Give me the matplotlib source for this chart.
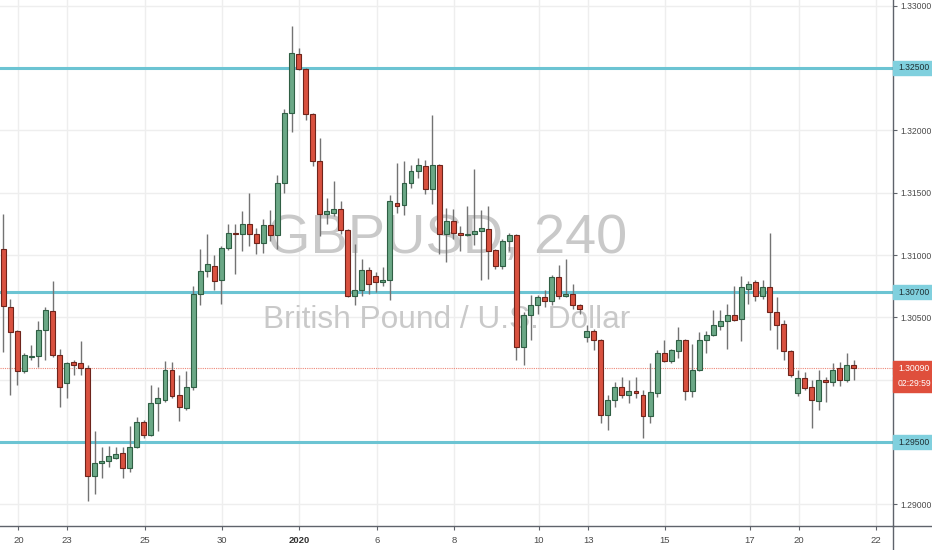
import matplotlib
matplotlib.use("Agg")
import matplotlib.pyplot as plt
from matplotlib import font_manager
from matplotlib.lines import Line2D
from matplotlib.patches import Rectangle

# GBPUSD 4h candles (oldest first)
opens = [1.3105, 1.3058, 1.3039, 1.3007, 1.3018, 1.3019, 1.3040, 1.3055, 1.3020, 1.2997,
         1.3014, 1.3013, 1.3009, 1.2923, 1.2933, 1.2935, 1.2937, 1.2941, 1.2929, 1.2946,
         1.2966, 1.2956, 1.2981, 1.2984, 1.3008, 1.2988, 1.2977, 1.2994, 1.3069, 1.3087,
         1.3091, 1.3080, 1.3106, 1.3118, 1.3117, 1.3125, 1.3117, 1.3110, 1.3124, 1.3116,
         1.3158, 1.3214, 1.3261, 1.3249, 1.3213, 1.3175, 1.3133, 1.3134, 1.3137, 1.3120,
         1.3067, 1.3072, 1.3088, 1.3083, 1.3078, 1.3080, 1.3142, 1.3140, 1.3158, 1.3167,
         1.3171, 1.3153, 1.3172, 1.3117, 1.3127, 1.3118, 1.3116, 1.3117, 1.3119, 1.3121,
         1.3104, 1.3091, 1.3111, 1.3116, 1.3026, 1.3052, 1.3060, 1.3066, 1.3063, 1.3082,
         1.3067, 1.3069, 1.3060, 1.3034, 1.3039, 1.3032, 1.2972, 1.2984, 1.2994, 1.2988,
         1.2991, 1.2988, 1.2971, 1.2989, 1.3021, 1.3015, 1.3023, 1.3032, 1.2991, 1.3008,
         1.3032, 1.3036, 1.3043, 1.3047, 1.3052, 1.3049, 1.3073, 1.3078, 1.3067, 1.3074,
         1.3054, 1.3045, 1.3023, 1.2989, 1.3001, 1.2994, 1.2983, 1.3000, 1.2998, 1.3009,
         1.3000, 1.3012]
highs = [1.3133, 1.3065, 1.3040, 1.3021, 1.3028, 1.3047, 1.3058, 1.3079, 1.3025, 1.3014,
         1.3016, 1.3031, 1.3012, 1.2959, 1.2946, 1.2947, 1.2946, 1.2946, 1.2963, 1.2970,
         1.2968, 1.2996, 1.2994, 1.3015, 1.3014, 1.3004, 1.3007, 1.3075, 1.3105, 1.3117,
         1.3100, 1.3107, 1.3125, 1.3125, 1.3135, 1.3150, 1.3122, 1.3129, 1.3136, 1.3164,
         1.3217, 1.3284, 1.3266, 1.3250, 1.3214, 1.3194, 1.3146, 1.3159, 1.3143, 1.3121,
         1.3109, 1.3097, 1.3090, 1.3086, 1.3090, 1.3148, 1.3174, 1.3175, 1.3172, 1.3178,
         1.3176, 1.3212, 1.3173, 1.3138, 1.3137, 1.3123, 1.3139, 1.3169, 1.3136, 1.3139,
         1.3105, 1.3113, 1.3118, 1.3117, 1.3054, 1.3068, 1.3068, 1.3072, 1.3084, 1.3092,
         1.3097, 1.3077, 1.3061, 1.3044, 1.3041, 1.3033, 1.2988, 1.2998, 1.3002, 1.3000,
         1.3002, 1.2992, 1.3013, 1.3024, 1.3032, 1.3025, 1.3042, 1.3033, 1.3029, 1.3038,
         1.3039, 1.3056, 1.3056, 1.3061, 1.3075, 1.3083, 1.3079, 1.3080, 1.3080, 1.3118,
         1.3066, 1.3048, 1.3024, 1.3008, 1.3006, 1.3000, 1.3008, 1.3002, 1.3013, 1.3014,
         1.3021, 1.3016]
lows = [1.3022, 1.2988, 1.2996, 1.3005, 1.3016, 1.3010, 1.3016, 1.3018, 1.2978, 1.2985,
        1.3004, 1.3004, 1.2903, 1.2908, 1.2921, 1.2930, 1.2936, 1.2921, 1.2926, 1.2945,
        1.2953, 1.2955, 1.2959, 1.2982, 1.2985, 1.2967, 1.2976, 1.2992, 1.3060, 1.3082,
        1.3072, 1.3061, 1.3104, 1.3085, 1.3103, 1.3107, 1.3101, 1.3102, 1.3111, 1.3105,
        1.3150, 1.3199, 1.3248, 1.3208, 1.3171, 1.3115, 1.3125, 1.3131, 1.3117, 1.3066,
        1.3060, 1.3067, 1.3069, 1.3070, 1.3075, 1.3064, 1.3134, 1.3132, 1.3154, 1.3162,
        1.3149, 1.3141, 1.3101, 1.3094, 1.3113, 1.3103, 1.3115, 1.3108, 1.3080, 1.3081,
        1.3089, 1.3089, 1.3103, 1.3016, 1.3012, 1.3032, 1.3053, 1.3058, 1.3060, 1.3065,
        1.3066, 1.3057, 1.3053, 1.3030, 1.3024, 1.2965, 1.2960, 1.2978, 1.2985, 1.2981,
        1.2985, 1.2953, 1.2965, 1.2986, 1.3014, 1.3013, 1.3017, 1.2984, 1.2986, 1.3007,
        1.3021, 1.3035, 1.3040, 1.3025, 1.3047, 1.3031, 1.3061, 1.3063, 1.3065, 1.3040,
        1.3025, 1.3016, 1.3002, 1.2987, 1.2992, 1.2961, 1.2976, 1.2982, 1.2995, 1.2995,
        1.2998, 1.3000]
closes = [1.3059, 1.3038, 1.3007, 1.3020, 1.3019, 1.3040, 1.3056, 1.3020, 1.2994, 1.3013,
          1.3012, 1.3009, 1.2923, 1.2933, 1.2935, 1.2939, 1.2940, 1.2929, 1.2946, 1.2966,
          1.2956, 1.2981, 1.2985, 1.3008, 1.2987, 1.2978, 1.2994, 1.3069, 1.3087, 1.3093,
          1.3079, 1.3106, 1.3118, 1.3117, 1.3125, 1.3117, 1.3110, 1.3124, 1.3116, 1.3158,
          1.3214, 1.3262, 1.3249, 1.3213, 1.3175, 1.3133, 1.3135, 1.3137, 1.3120, 1.3067,
          1.3072, 1.3088, 1.3077, 1.3078, 1.3080, 1.3143, 1.3139, 1.3158, 1.3167, 1.3172,
          1.3153, 1.3172, 1.3117, 1.3127, 1.3118, 1.3116, 1.3117, 1.3119, 1.3122, 1.3103,
          1.3091, 1.3111, 1.3116, 1.3026, 1.3052, 1.3060, 1.3066, 1.3063, 1.3082, 1.3067,
          1.3069, 1.3060, 1.3057, 1.3039, 1.3032, 1.2972, 1.2984, 1.2994, 1.2988, 1.2991,
          1.2989, 1.2971, 1.2990, 1.3021, 1.3015, 1.3024, 1.3032, 1.2991, 1.3008, 1.3032,
          1.3036, 1.3044, 1.3047, 1.3052, 1.3048, 1.3074, 1.3077, 1.3067, 1.3074, 1.3054,
          1.3044, 1.3023, 1.3004, 1.3001, 1.2993, 1.2984, 1.3000, 1.2998, 1.3008, 1.3000,
          1.3012, 1.3009]

levels = [1.3250, 1.3070, 1.2950]
last_price = 1.3009
countdown = "02:29:59"
grid_prices = [1.290, 1.295, 1.300, 1.305, 1.310, 1.315, 1.320, 1.325, 1.330]
price_ticks = [1.290, 1.305, 1.310, 1.315, 1.320, 1.330]
day_pos = [2.15, 9.05, 20.15, 31.1, 42.1, 53.2, 64.1, 76.2, 83.2, 94.1, 106.2, 113.2, 124.1]
day_labels = ["20", "23", "25", "30", "2020", "6", "8", "10", "13", "15", "17", "20", "22"]
symbol = "GBPUSD, 240"
description = "British Pound / U.S. Dollar"

UP, UP_EDGE = "#6ba886", "#2f5f44"
DOWN, DOWN_EDGE = "#d9513f", "#6e241b"
WICK = "#737373"
LEVEL, LEVEL_BOX = "#6cc4d3", "#80d0de"
AXIS = "#5f636b"
TXT = "#4a4a4a"

names = {f.name for f in font_manager.fontManager.ttflist}
narrow = "Liberation Sans Narrow" in names
font = "Liberation Sans Narrow" if narrow else "Liberation Sans"
tick_size = 7 if narrow else 6.2
plt.rcParams["font.family"] = [font, "DejaVu Sans"]

W, H = 932, 550
fig = plt.figure(figsize=(W / 100, H / 100), dpi=100)
ax = fig.add_axes([0, 24 / H, 893 / W, 526 / H])
ax.set_xlim(-0.47, 126.56)
ax.set_ylim(1.288263, 1.330454)
px = (1.330454 - 1.288263) / 526  # price units per pixel

# grid
for p in grid_prices:
    ax.axhline(p, color="#eeeeee", lw=1, zorder=0)
for d in day_pos:
    ax.axvline(d, color="#eeeeee", lw=1, zorder=0)

# watermark
wm1 = ax.text(0.5006, 0.5198, symbol, transform=ax.transAxes, ha="center", va="baseline",
              color="#c9c9c9", fontsize=50, zorder=0.5)
wm2 = ax.text(0.5006, 0.3764, description, transform=ax.transAxes, ha="center", va="baseline",
              color="#c9c9c9", fontsize=25, zorder=0.5)
fig.canvas.draw()
r = fig.canvas.get_renderer()
for t, target in [(wm1, 361), (wm2, 368)]:
    t.set_fontsize(t.get_fontsize() * target / t.get_window_extent(r).width)

# support / resistance levels
for lv in levels:
    ax.axhline(lv, color=LEVEL, lw=2.2, zorder=1.5)
ax.axhline(last_price, color="#ee8878", lw=0.8, ls=(0, (1, 1)), zorder=1.6)

# candles
x = list(range(len(opens)))
up = [c >= o for o, c in zip(opens, closes)]
bottoms = [min(o, c) for o, c in zip(opens, closes)]
heights = [max(abs(c - o), 0.00004) for o, c in zip(opens, closes)]
ax.vlines(x, lows, highs, colors=WICK, lw=1, zorder=2)
ax.bar(x, heights, bottom=bottoms, width=0.7,
       color=[UP if u else DOWN for u in up],
       edgecolor=[UP_EDGE if u else DOWN_EDGE for u in up], linewidth=0.8, zorder=3)

# axes frame
for s in ["top", "left"]:
    ax.spines[s].set_visible(False)
for s in ["bottom", "right"]:
    ax.spines[s].set_color(AXIS)
    ax.spines[s].set_linewidth(1)
fig.add_artist(Line2D([893 / W, 1], [24 / H, 24 / H], color=AXIS, lw=1))
fig.add_artist(Line2D([893 / W, 893 / W], [0, 24 / H], color=AXIS, lw=1))

ax.yaxis.tick_right()
ax.set_yticks(price_ticks, [f"{p:.5f}" for p in price_ticks])
ax.tick_params(axis="y", length=3, width=0.8, color=AXIS, pad=2,
               labelsize=tick_size, labelcolor=TXT)
ax.set_xticks(day_pos, day_labels)
ax.tick_params(axis="x", length=3, width=0.8, color=AXIS, pad=4,
               labelsize=tick_size + 0.6, labelcolor=TXT)
for lab in ax.get_xticklabels():
    if lab.get_text() == "2020":
        lab.set_fontweight("bold")
        lab.set_color("#333333")

# price labels on the scale
ytr = ax.get_yaxis_transform()
bw = 39 / 893
for lv in levels:
    ax.add_patch(Rectangle((1.0, lv - 7 * px), bw, 14 * px, transform=ytr,
                           color=LEVEL_BOX, clip_on=False, zorder=6))
    ax.text(1.0 + 5 / 893, lv, f"{lv:.5f}", transform=ytr, ha="left", va="center",
            fontsize=tick_size, color="#1f2f33", zorder=7, clip_on=False)
ax.add_patch(Rectangle((1.0, last_price - 7 * px), bw, 14.5 * px, transform=ytr,
                       color="#df4f3c", clip_on=False, zorder=6))
ax.add_patch(Rectangle((1.0, last_price - 23.5 * px), bw, 15.5 * px, transform=ytr,
                       color="#df4f3c", clip_on=False, zorder=6))
ax.text(1.0 + 5 / 893, last_price, f"{last_price:.5f}", transform=ytr, ha="left",
        va="center", fontsize=tick_size, color="white", zorder=7, clip_on=False)
ax.text(1.0 + 5 / 893, last_price - 15.5 * px, countdown, transform=ytr, ha="left",
        va="center", fontsize=tick_size, color="white", zorder=7, clip_on=False)

fig.savefig("out.png", dpi=100)
